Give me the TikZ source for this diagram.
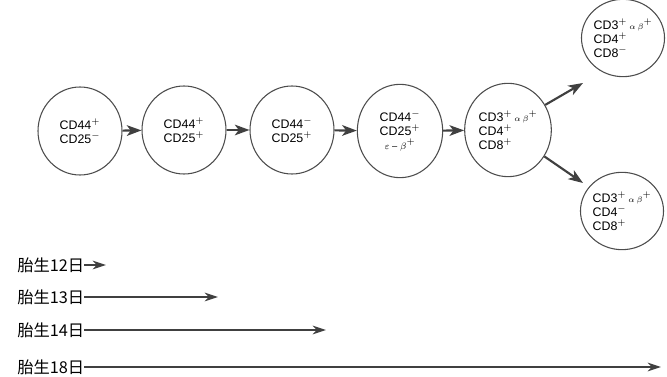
\documentclass[tikz,border=0pt]{standalone}
\usepackage{fontspec}
\setsansfont{Liberation Sans}
\newfontfamily\jpfont{Noto Sans CJK JP}
\usetikzlibrary{shapes.geometric,arrows.meta}
\tikzset{
	cell/.style={draw=black!70,line width=0.8pt,ellipse,minimum width=63pt,minimum height=66pt,
		inner sep=0pt,align=left,font=\sffamily\fontsize{9.3}{10.5}\selectfont},
	flow/.style={line width=1.6pt,draw=black!75,-{Stealth[length=11pt,width=8pt,inset=3pt]}},
	day/.style={inner sep=0pt,anchor=west,font=\jpfont\fontsize{12.2}{13}\selectfont},
	dayline/.style={line width=0.9pt,draw=black!75,-{Stealth[length=10pt,width=6.5pt,inset=3pt]}}
}
\newcommand{\ab}{{\fontsize{6}{7}\selectfont$\alpha\,\beta$}}
\begin{document}
\begin{tikzpicture}[x=0.75pt,y=-0.75pt]
		\useasboundingbox (0,0) rectangle (667,377);
		% cells in the thymus
		\node[cell] (dn1) at (80,131) {CD44$^+$\\CD25$^-$};
		\node[cell] (dn2) at (184,130) {CD44$^+$\\CD25$^+$};
		\node[cell] (dn3) at (292,130) {CD44$^-$\\CD25$^+$};
		\node[cell,minimum width=64pt,minimum height=70pt,align=center] (dn4) at (400,131) {CD44$^-$\\CD25$^+$\\{\fontsize{7}{8}\selectfont$\varepsilon$ -- $\beta$}$^+$};
		\node[cell,minimum width=65pt,minimum height=70pt] (dp) at (508,130) {CD3$^+$\,\ab$^+$\\CD4$^+$\\CD8$^+$};
		\node[cell,minimum width=60pt,minimum height=58pt] (cd4) at (623,38) {CD3$^+$\,\ab$^+$\\CD4$^+$\\CD8$^-$};
		\node[cell,minimum width=60pt,minimum height=58pt] (cd8) at (622,211) {CD3$^+$\,\ab$^+$\\CD4$^-$\\CD8$^+$};
		\coordinate (to4) at (583,83);
		\coordinate (to8) at (583,183);
		\draw[flow] (dn1) -- (dn2);
		\draw[flow] (dn2) -- (dn3);
		\draw[flow] (dn3) -- (dn4);
		\draw[flow] (dn4) -- (dp);
		\draw[flow] (dp.34) -- (to4);
		\draw[flow] (dp.-36) -- (to8);
		% embryonic days
		\node[day] (d12) at (17,265) {胎生12日};
		\node[day] (d13) at (17,297) {胎生13日};
		\node[day] (d14) at (17,330) {胎生14日};
		\node[day] (d18) at (17,367) {胎生18日};
		\coordinate (e12) at (106,265);
		\coordinate (e13) at (218,297);
		\coordinate (e14) at (326,330);
		\coordinate (e18) at (661,367);
		\draw[dayline] (d12) -- (e12);
		\draw[dayline] (d13) -- (e13);
		\draw[dayline] (d14) -- (e14);
		\draw[dayline] (d18) -- (e18);
\end{tikzpicture}
\end{document}
